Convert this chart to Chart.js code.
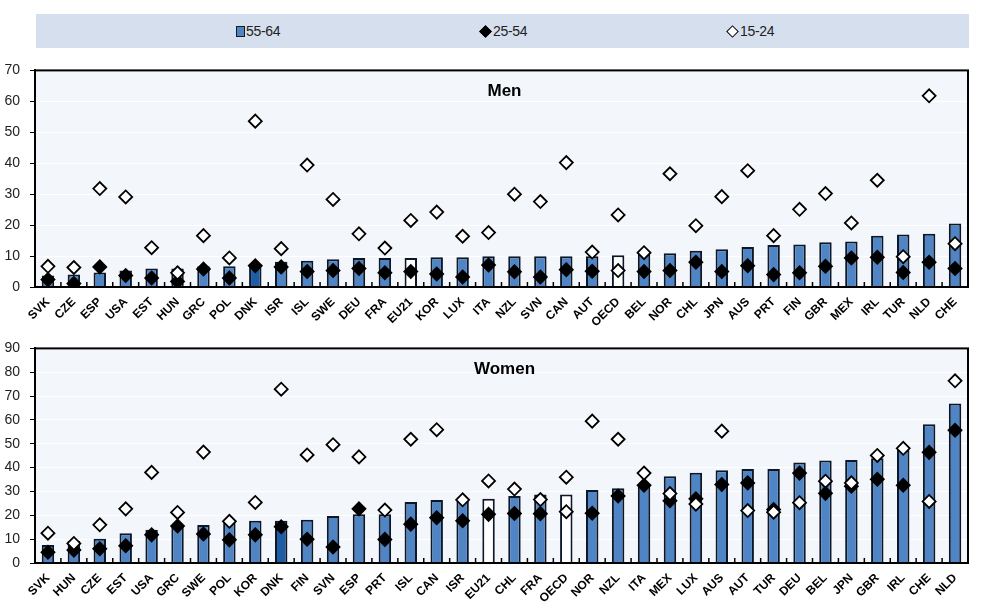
<!DOCTYPE html>
<html>
<head>
<meta charset="utf-8">
<script src="https://cdn.jsdelivr.net/npm/chart.js@4.4.1/dist/chart.umd.min.js"></script>
<style>
  body { margin: 0; background: #fff; width: 984px; height: 611px; position: relative; overflow: hidden; font-family: "Liberation Sans Narrow", "Liberation Sans", Arial, sans-serif; }
  #legend { position: absolute; left: 36px; top: 14px; width: 933px; height: 34px; background: #d6dfed; }
  .item { position: absolute; top: 9px; font-size: 14px; color: #222; line-height: 16px; letter-spacing: -0.3px; }
  .sq { display: inline-block; width: 7px; height: 9px; background: #4f85c4; border: 1.5px solid #1a1a1a; vertical-align: -1px; margin-right: 1px; }
  .dm { display: inline-block; width: 7px; height: 7px; transform: rotate(45deg); border: 1.5px solid #000; vertical-align: 0px; margin-right: 3px; margin-left: 2px; }
  canvas { position: absolute; left: 0; }
</style>
</head>
<body>
<div id="legend">
  <div class="item" style="left:200px"><span class="sq"></span>55-64</div>
  <div class="item" style="left:443px"><span class="dm" style="background:#000"></span>25-54</div>
  <div class="item" style="left:690px"><span class="dm" style="background:#fff"></span>15-24</div>
</div>
<canvas id="chartMen" style="top:52px" width="984" height="283"></canvas>
<canvas id="chartWomen" style="top:330px" width="984" height="281"></canvas>
<script>
// Dados - Homens
const paisesHomens = ['SVK','CZE','ESP','USA','EST','HUN','GRC','POL','DNK','ISR','ISL','SWE','DEU','FRA','EU21','KOR','LUX','ITA','NZL','SVN','CAN','AUT','OECD','BEL','NOR','CHL','JPN','AUS','PRT','FIN','GBR','MEX','IRL','TUR','NLD','CHE'];
const homens5564 = [3.7,4.0,4.7,5.3,6.0,6.0,6.7,6.7,7.4,8.2,8.5,9.0,9.4,9.4,9.4,9.6,9.6,9.9,9.9,9.9,9.9,9.9,10.3,10.6,10.9,11.7,12.2,12.9,13.6,13.7,14.5,14.7,16.6,17.0,17.2,20.5];
const homens2554 = [2.4,1.1,6.5,3.7,2.9,1.8,5.8,2.9,6.9,6.5,5.0,5.3,6.0,4.6,5.0,4.2,3.2,7.1,4.9,3.2,5.6,5.1,5.3,5.0,5.3,8.0,5.0,6.9,4.0,4.6,6.7,9.4,9.6,4.7,8.0,6.0];
const homens1524 = [6.7,6.3,31.8,29.1,12.7,4.6,16.6,9.4,53.6,12.4,39.4,28.3,17.2,12.6,21.5,24.2,16.4,17.6,30.0,27.6,40.2,11.3,23.3,11.1,36.6,19.8,29.2,37.6,16.6,25.1,30.2,20.7,34.5,9.8,61.8,14.0];
const ticksHomens = { min: 0, max: 70, step: 10 };

// Dados - Mulheres
const paisesMulheres = ['SVK','HUN','CZE','EST','USA','GRC','SWE','POL','KOR','DNK','FIN','SVN','ESP','PRT','ISL','CAN','ISR','EU21','CHL','FRA','OECD','NOR','NZL','ITA','MEX','LUX','AUS','AUT','TUR','DEU','BEL','JPN','GBR','IRL','CHE','NLD'];
const mulheres5564 = [7.5,9.2,10.2,12.5,13.9,15.6,15.9,17.7,17.7,17.7,18.1,19.7,20.4,20.4,25.6,26.4,26.6,26.9,28.1,28.7,28.7,30.6,31.3,32.9,36.4,37.8,38.9,39.4,39.4,42.1,43.0,43.2,43.9,47.4,58.2,66.9];
const mulheres2554 = [4.5,5.4,6.0,7.2,11.8,15.5,12.2,9.7,11.8,15.2,10.0,6.7,22.7,9.9,16.3,19.0,17.7,20.4,20.8,20.7,21.5,20.9,28.1,32.6,26.1,26.9,32.9,33.6,22.4,37.7,29.2,32.2,35.1,32.6,46.4,55.7];
const mulheres1524 = [12.5,8.2,16.0,22.7,38.0,21.2,46.5,17.5,25.4,72.9,45.3,49.6,44.5,22.2,51.9,55.9,26.5,34.4,31.0,26.6,36.0,59.5,51.9,37.7,29.1,24.7,55.3,22.0,21.3,25.3,34.3,33.6,45.1,48.1,25.8,76.4];
const ticksMulheres = { min: 0, max: 90, step: 10 };

const fonteEixo = "'Liberation Sans Narrow', 'Liberation Sans', Arial, sans-serif";

// cores das barras: medias em branco, DNK em destaque
function coresBarras(paises) {
    return paises.map(p => p == 'DNK' ? '#1c5da6' : (p == 'EU21' || p == 'OECD') ? '#ffffff' : '#4f85c4');
}

// plugin: fundo, moldura, marcas do eixo x e titulo do painel
const painelPlugin = {
    id: 'painel',
    beforeDraw(chart) {
        const a = chart.chartArea, ctx = chart.ctx;
        ctx.save();
        ctx.fillStyle = '#f3f6fb';
        ctx.fillRect(a.left, a.top, a.right - a.left, a.bottom - a.top);
        ctx.restore();
    },
    afterDraw(chart, args, opts) {
        const a = chart.chartArea, ctx = chart.ctx;
        const x = chart.scales.x;
        ctx.save();
        ctx.strokeStyle = '#000';
        ctx.lineWidth = 2;
        ctx.strokeRect(a.left, a.top, a.right - a.left, a.bottom - a.top);
        // pequenas marcas entre categorias
        ctx.lineWidth = 1.5;
        for (let i = 0; i < chart.data.labels.length - 1; i++) {
            const px = (x.getPixelForValue(i) + x.getPixelForValue(i + 1)) / 2;
            ctx.beginPath();
            ctx.moveTo(px, a.bottom);
            ctx.lineTo(px, a.bottom - 5);
            ctx.stroke();
        }
        ctx.fillStyle = '#000';
        ctx.font = "bold 17px 'Liberation Sans Narrow', 'Liberation Sans', Arial, sans-serif";
        ctx.textAlign = 'center';
        ctx.textBaseline = 'middle';
        ctx.fillText(opts.titulo, (a.left + a.right) / 2 + 3, a.top + 21);
        ctx.restore();
    }
};

function criarGrafico(id, titulo, paises, v5564, v2554, v1524, escala, padTop) {
    const branco2554 = paises.map(p => p == 'OECD' ? '#ffffff' : '#000000');
    return new Chart(document.getElementById(id), {
        type: 'bar',
        data: {
            labels: paises,
            datasets: [
                {
                    type: 'line',
                    label: '15-24',
                    data: v1524,
                    showLine: false,
                    pointStyle: 'rectRot',
                    pointRadius: 6.5,
                    pointBackgroundColor: '#ffffff',
                    pointBorderColor: '#000000',
                    pointBorderWidth: 1.8,
                    order: 0
                },
                {
                    type: 'line',
                    label: '25-54',
                    data: v2554,
                    showLine: false,
                    pointStyle: 'rectRot',
                    pointRadius: 6.5,
                    pointBackgroundColor: branco2554,
                    pointBorderColor: '#000000',
                    pointBorderWidth: 1.8,
                    order: 1
                },
                {
                    label: '55-64',
                    data: v5564,
                    backgroundColor: coresBarras(paises),
                    borderColor: '#0e1726',
                    borderWidth: 2,
                    borderSkipped: 'bottom',
                    categoryPercentage: 1,
                    barPercentage: 0.48,
                    order: 2
                }
            ]
        },
        options: {
            responsive: false,
            animation: false,
            layout: { padding: { top: padTop, right: 16, left: 0, bottom: 0 } },
            plugins: {
                legend: { display: false },
                tooltip: { enabled: false },
                painel: { titulo: titulo }
            },
            scales: {
                x: {
                    offset: true,
                    grid: { display: false },
                    border: { display: true, color: '#000', width: 2 },
                    ticks: {
                        autoSkip: false,
                        maxRotation: 45,
                        minRotation: 45,
                        padding: 0,
                        color: '#000',
                        font: { family: fonteEixo, size: 12, weight: 'bold' }
                    },
                    afterFit: (s) => { s.height = 48; }
                },
                y: {
                    min: escala.min,
                    max: escala.max,
                    grid: { color: '#ffffff', lineWidth: 1, tickColor: '#000', tickLength: 5 },
                    border: { display: true, color: '#000', width: 2 },
                    ticks: {
                        stepSize: escala.step,
                        padding: 10,
                        color: '#222',
                        font: { family: fonteEixo, size: 14 }
                    },
                    afterFit: (s) => { s.width = 35; }
                }
            }
        },
        plugins: [painelPlugin]
    });
}

window.onload = function() {
    criarGrafico('chartMen', 'Men', paisesHomens, homens5564, homens2554, homens1524, ticksHomens, 13);
    criarGrafico('chartWomen', 'Women', paisesMulheres, mulheres5564, mulheres2554, mulheres1524, ticksMulheres, 12);
}
</script>
</body>
</html>
